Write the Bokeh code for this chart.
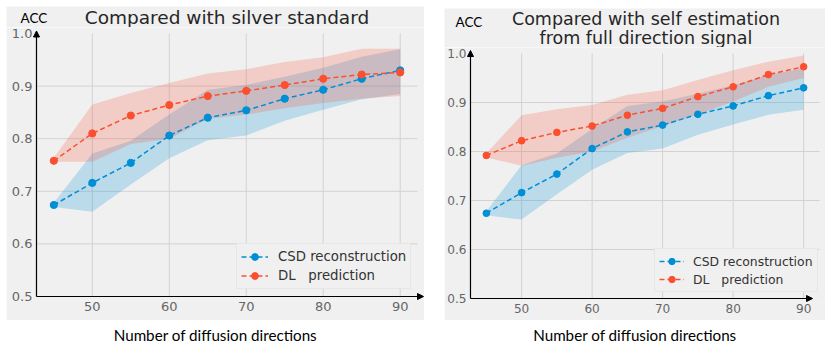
from bokeh.plotting import figure
from bokeh.models import (Arrow, NormalHead, Legend, LegendItem, FixedTicker,
                          Range1d, PrintfTickFormatter, Spacer)
from bokeh.layouts import row, column
from bokeh.embed import file_html
from bokeh.resources import INLINE
from bokeh.core.properties import value

# ---------------- data ----------------
directions = [45, 50, 55, 60, 65, 70, 75, 80, 85, 90]

csd_mean = [0.674, 0.716, 0.754, 0.806, 0.840, 0.854, 0.876, 0.893, 0.914, 0.930]
csd_low = [0.670, 0.661, 0.713, 0.763, 0.797, 0.806, 0.834, 0.855, 0.875, 0.885]
csd_high = [0.678, 0.772, 0.796, 0.846, 0.893, 0.902, 0.918, 0.935, 0.956, 0.970]

dl_silver_mean = [0.758, 0.810, 0.844, 0.864, 0.881, 0.891, 0.902, 0.914, 0.922, 0.926]
dl_silver_low = [0.756, 0.756, 0.790, 0.800, 0.838, 0.846, 0.858, 0.868, 0.876, 0.881]
dl_silver_high = [0.764, 0.865, 0.887, 0.906, 0.924, 0.932, 0.946, 0.955, 0.971, 0.971]

dl_self_mean = [0.792, 0.822, 0.839, 0.852, 0.874, 0.888, 0.912, 0.932, 0.957, 0.973]
dl_self_low = [0.788, 0.771, 0.787, 0.800, 0.828, 0.852, 0.876, 0.902, 0.932, 0.950]
dl_self_high = [0.796, 0.874, 0.886, 0.895, 0.916, 0.925, 0.946, 0.966, 0.983, 0.996]

x_ticks = [50, 60, 70, 80, 90]
y_ticks = [0.5, 0.6, 0.7, 0.8, 0.9, 1.0]
series_labels = ["CSD reconstruction", "DL   prediction"]
titles_left = ["Compared with silver standard"]
titles_right = ["Compared with self estimation", "from full direction signal"]
y_label = "ACC"
x_label = "Number of diffusion directions"

BLUE = "#008fd5"
RED = "#fc4f30"
BG = "#f0f0f0"
GRID = "#d2d2d2"
XA, XB = 42.75, 92.25   # matplotlib axes limits
YA, YB = 0.5, 1.0


def make_main(width, height, bl, bb, pxx, pxy, spine_dx, top_dy, dl_mean, dl_low, dl_high,
              xtip_px, ytip_px, legend_loc, s):
    # frame starts spine_dx px left of / below the spines so the arrows are not clipped
    x0 = XA - spine_dx / pxx
    x1 = XA + (width - bl - spine_dx) / pxx
    y0 = YA - spine_dx / pxy
    y1 = YB + top_dy / pxy
    p = figure(width=width, height=height, output_backend="svg", toolbar_location=None,
               x_range=Range1d(x0, x1), y_range=Range1d(y0, y1), frame_align=False,
               min_border_left=bl, min_border_right=0, min_border_top=0, min_border_bottom=bb)
    p.background_fill_color = BG
    p.border_fill_color = BG
    p.outline_line_color = None
    p.grid.visible = False

    for ax in (p.xaxis[0], p.yaxis[0]):
        ax.axis_line_color = None
        ax.major_tick_out = 0
        ax.major_tick_in = 0
        ax.minor_tick_line_color = None
        ax.major_label_text_color = "#666666"
        ax.major_label_text_font = "DejaVu Sans"
        ax.major_label_text_font_size = f"{13*s:.1f}px"
    p.xaxis.ticker = FixedTicker(ticks=x_ticks)
    p.yaxis.ticker = FixedTicker(ticks=y_ticks)
    p.yaxis.formatter = PrintfTickFormatter(format="%.1f")
    p.xaxis.major_label_standoff = 1
    p.yaxis.major_label_standoff = 0

    # grid lines limited to the axes box
    p.segment(x0=x_ticks, y0=[YA] * len(x_ticks), x1=x_ticks, y1=[YB] * len(x_ticks),
              line_color=GRID, line_width=1)
    hy = y_ticks[1:-1]
    p.segment(x0=[XA] * len(hy), y0=hy, x1=[XB] * len(hy), y1=hy,
              line_color=GRID, line_width=1)

    p.varea(x=directions, y1=csd_low, y2=csd_high, fill_color=BLUE, fill_alpha=0.22)
    p.varea(x=directions, y1=dl_low, y2=dl_high, fill_color=RED, fill_alpha=0.22)
    l1 = p.line(directions, csd_mean, line_color=BLUE, line_width=1.5, line_dash="5 3")
    m1 = p.scatter(directions, csd_mean, size=7.2 * s, marker="circle", color=BLUE)
    l2 = p.line(directions, dl_mean, line_color=RED, line_width=1.5, line_dash="5 3")
    m2 = p.scatter(directions, dl_mean, size=7.2 * s, marker="circle", color=RED)

    legend = Legend(items=[LegendItem(label=series_labels[0], renderers=[l1, m1]),
                           LegendItem(label=series_labels[1], renderers=[l2, m2])])
    legend.location = legend_loc
    legend.padding = int(round(4 * s))
    legend.spacing = 2
    legend.glyph_width = int(round(27 * s))
    legend.glyph_height = int(round(17 * s))
    legend.label_height = int(round(17 * s))
    legend.label_standoff = int(round(10 * s))
    legend.label_text_font = "DejaVu Sans"
    legend.label_text_font_size = f"{13.3*s:.1f}px"
    legend.label_text_color = "#333333"
    legend.background_fill_color = BG
    legend.background_fill_alpha = 1.0
    legend.border_line_color = "#dcdcdc"
    legend.border_line_width = 1
    legend.margin = 0
    p.add_layout(legend, "center")

    # axis arrows
    p.add_layout(Arrow(end=NormalHead(size=6, fill_color="black", line_color="black"),
                       x_start=XA, y_start=YA, x_end=XA, y_end=YB + ytip_px / pxy,
                       line_color="black", line_width=1.2))
    p.add_layout(Arrow(end=NormalHead(size=6, fill_color="black", line_color="black"),
                       x_start=XA, y_start=YA, x_end=XA + xtip_px / pxx, y_end=YA,
                       line_color="black", line_width=1.2))
    return p


def make_strip(width, height, fill):
    q = figure(width=width, height=height, output_backend="svg", toolbar_location=None,
               x_range=Range1d(0, width), y_range=Range1d(0, height), min_border=0,
               min_border_left=0, min_border_right=0, min_border_top=0, min_border_bottom=0,
               x_axis_type=None, y_axis_type=None, frame_align=False)
    q.background_fill_color = fill
    q.border_fill_color = fill
    q.outline_line_color = None
    return q


def add_titles(q, titles, xy, px):
    q.text(x=[c[0] for c in xy], y=[c[1] for c in xy], text=titles,
           text_align="center", text_baseline="middle", text_font=value("DejaVu Sans"),
           text_font_size=value(f"{px}px"), text_color="#262626")
    return q


def add_text(q, txt, x, y, align, size):
    q.text(x=[x], y=[y], text=[txt], text_align=align, text_baseline="middle",
           text_font=value("Lato"), text_font_size=value(size), text_color="black")
    return q


# ---------- left panel ----------
stripL = make_strip(418, 21, BG)
add_titles(stripL, titles_left, [(220.5, 10.3)], 18.5)
add_text(stripL, y_label, 14, 10, "left", "13.5px")
mainL = make_main(418, 293, 26, 20, 381 / 49.5, 526.0, 4, 6,
                  dl_silver_mean, dl_silver_low, dl_silver_high,
                  387, 2.5, (204, 11), 1.0)
xlabL = make_strip(418, 25, "white")
add_text(xlabL, x_label, 209, 11, "center", "15.2px")

# ---------- right panel ----------
stripR = make_strip(381, 39, BG)
add_titles(stripR, titles_right, [(201.5, 29), (201.5, 9.5)], 17.5)
add_text(stripR, y_label, 11, 26, "left", "13.5px")
mainR = make_main(381, 273, 21, 18, 350 / 49.5, 490.0, 4, 6,
                  dl_self_mean, dl_self_low, dl_self_high,
                  343, 3, (188, 10), 0.93)
xlabR = make_strip(381, 25, "white")
add_text(xlabR, x_label, 190.5, 11, "center", "15.2px")

colL = column(Spacer(width=418, height=6), stripL, mainL, xlabL, spacing=0)
colR = column(Spacer(width=381, height=8), stripR, mainR, xlabR, spacing=0)
layout = row(Spacer(width=6, height=10), colL, Spacer(width=20, height=10), colR, spacing=0)

open("out.html", "w").write(file_html(layout, INLINE))
